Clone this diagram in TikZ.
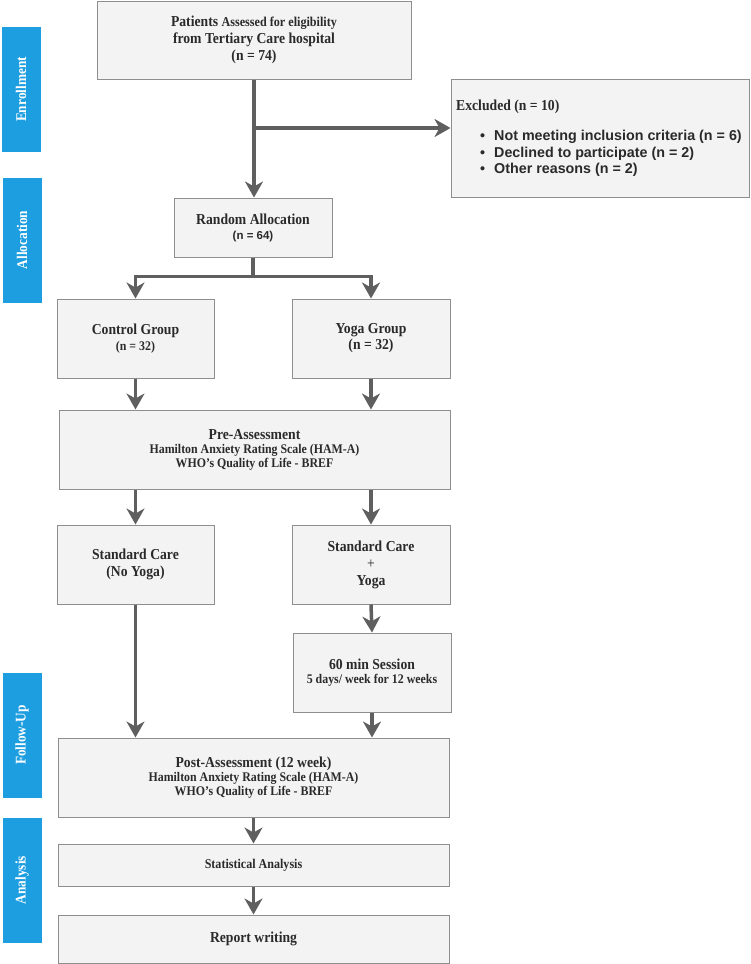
\documentclass[tikz,border=0pt]{standalone}
\usepackage{fontspec}
\setmainfont[FakeStretch=0.9]{Liberation Serif}
\newfontfamily\sansfont{Liberation Sans}
\usepackage{xcolor}
\usetikzlibrary{positioning,calc,arrows.meta}

\definecolor{boxfill}{HTML}{F3F3F3}
\definecolor{boxline}{HTML}{8E8E8E}
\definecolor{flowgray}{HTML}{5F5F5F}
\definecolor{stageblue}{HTML}{1C9EE0}
\definecolor{inkgray}{HTML}{2A2A2A}

\newcommand{\headsize}{\fontsize{15.2}{17}\selectfont}
\newcommand{\subsize}{\fontsize{13.2}{14.5}\selectfont}

\tikzset{
    box/.style={draw=boxline, fill=boxfill, line width=1pt, inner sep=0pt, align=center, text=inkgray, font=\headsize\bfseries},
    stage/.style={fill=stageblue, rotate=90, minimum width=125pt, minimum height=39pt, inner sep=0pt, text=white, font=\fontsize{14.8}{16}\selectfont\bfseries},
    flow/.style={draw=flowgray, line width=3.5pt, -{Stealth[length=16pt,width=18pt,inset=5pt]}}
}

\begin{document}
\begin{tikzpicture}[x=1pt,y=-1pt]
    \useasboundingbox (0,0) rectangle (750,964);

    % stages down the left side
    \node [stage] (enroll) at (21,89.5) {Enrollment};
    \node [stage] (alloc) at (22,240) {Allocation};
    \node [stage] (followup) at (22,735) {Follow-Up};
    \node [stage] (analysis) at (22,880) {Analysis};

    \node [box, minimum width=314pt, minimum height=78pt] (patients) at (254,40)
        {Patients {\fontsize{13.5}{17}\selectfont Assessed for eligibility}\\ from Tertiary Care hospital\\ (n = 74)};

    \node [box, minimum width=298pt, minimum height=118pt] (excluded) at (600,138) {};
    \node [anchor=west, inner sep=0pt, text=inkgray, font=\headsize\bfseries] at (456,107) {Excluded (n = 10)};
    \node [anchor=west, inner sep=0pt, align=left, text=inkgray, font=\sansfont\bfseries\fontsize{14.3}{16.5}\selectfont] at (480,153.5)
        {\textbullet\hspace{9pt}Not meeting inclusion criteria (n = 6)\\
         \textbullet\hspace{9pt}Declined to participate (n = 2)\\
         \textbullet\hspace{9pt}Other reasons (n = 2)};

    \node [box, minimum width=158pt, minimum height=59pt] (rand) at (253,227.5)
        {Random Allocation\\[-2pt] {\sansfont\fontsize{11.5}{14}\selectfont (n = 64)}};

    \node [box, minimum width=157pt, minimum height=79pt] (control) at (135.5,338.5)
        {Control Group\\[-1pt] {\subsize (n = 32)}};
    \node [box, minimum width=158pt, minimum height=79pt] (yoga) at (371,338.5)
        {Yoga Group\\[-1pt] (n = 32)};

    \node [box, minimum width=391pt, minimum height=79pt] (pre) at (254.5,449.5)
        {Pre-Assessment\\[-3pt] {\subsize Hamilton Anxiety Rating Scale (HAM-A)}\\[-3pt] {\subsize WHO's Quality of Life - BREF}};

    \node [box, minimum width=157pt, minimum height=79pt] (nocare) at (135.5,564.5)
        {Standard Care\\ (No Yoga)};
    \node [box, minimum width=158pt, minimum height=79pt] (yogacare) at (371,564.5)
        {Standard Care\\ {\mdseries +}\\ Yoga};

    \node [box, minimum width=158pt, minimum height=79pt] (session) at (372,672.5)
        {60 min Session\\[-3pt] {\subsize 5 days/ week for 12 weeks}};

    \node [box, minimum width=391pt, minimum height=79pt] (post) at (253.5,777.5)
        {Post-Assessment (12 week)\\[-3pt] {\subsize Hamilton Anxiety Rating Scale (HAM-A)}\\[-3pt] {\subsize WHO's Quality of Life - BREF}};

    \node [box, minimum width=391pt, minimum height=42pt] (stats) at (253.5,865)
        {\fontsize{13.4}{14}\selectfont Statistical Analysis};
    \node [box, minimum width=391pt, minimum height=48pt] (report) at (253.5,939)
        {Report writing};

    % connectors
    \coordinate (split) at (254,128);
    \draw [flow] (patients.south) -- (patients.south |- rand.north);
    \draw [flow] (split) -- (split -| excluded.west);

    \draw [flow] (rand.south) -- ++(0,19) -| (control.north);
    \draw [flow] (rand.south) -- ++(0,19) -| (yoga.north);

    \draw [flow] (control.south) -- (control.south |- pre.north);
    \draw [flow] (yoga.south) -- (yoga.south |- pre.north);
    \draw [flow] (nocare.north |- pre.south) -- (nocare.north);
    \draw [flow] (yogacare.north |- pre.south) -- (yogacare.north);

    \draw [flow] (yogacare.south) -- (session.north);
    \draw [flow] (nocare.south) -- (nocare.south |- post.north);
    \draw [flow] (session.south) -- (session.south |- post.north);

    \draw [flow] (post.south) -- (stats.north);
    \draw [flow] (stats.south) -- (report.north);
\end{tikzpicture}
\end{document}
